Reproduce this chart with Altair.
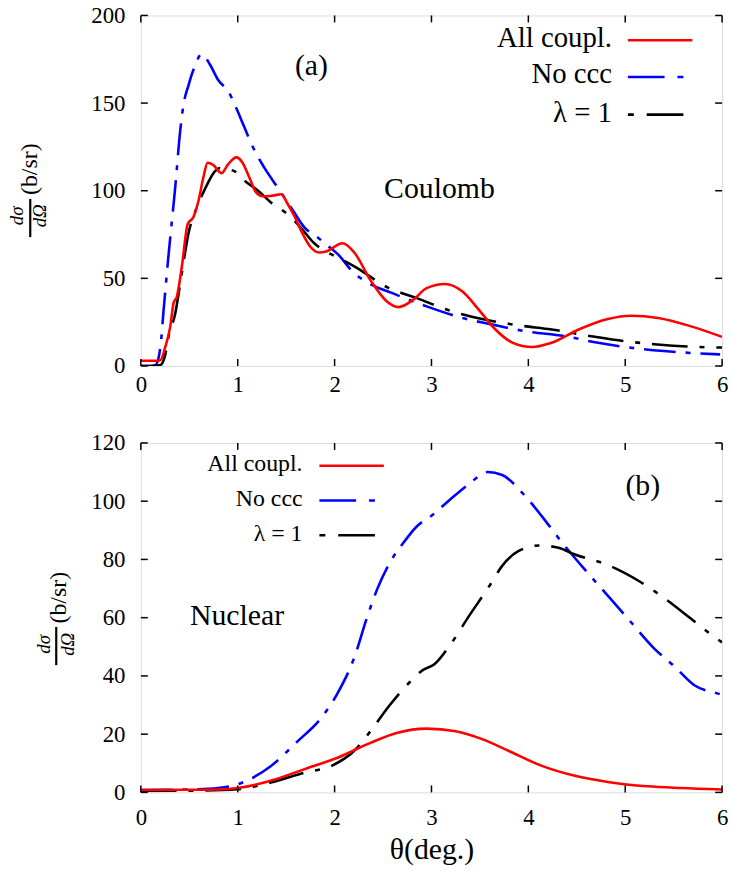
import altair as alt
import pandas as pd

# ---------------- data: Coulomb panel (a) ----------------
coul_all_theta = [0, 0.1, 0.17, 0.205, 0.253, 0.304, 0.338, 0.372, 0.423, 0.484, 0.543, 0.594,
                  0.645, 0.689, 0.747, 0.832, 0.90, 0.986, 1.05, 1.12, 1.19, 1.26, 1.34, 1.45,
                  1.51, 1.58, 1.67, 1.75, 1.84, 1.92, 2.08, 2.20, 2.37, 2.54, 2.66, 2.81, 2.95,
                  3.14, 3.32, 3.49, 3.66, 3.84, 4.04, 4.24, 4.52, 4.82, 5.06, 5.34, 5.68, 6.0]
coul_all = [3, 3, 3, 3.5, 11, 22.6, 36, 39.6, 56.6, 81, 85, 94,
            107.5, 116, 114.7, 110, 115, 119, 116, 107.5, 99, 96.8, 97, 98,
            93, 86, 75.5, 68, 64.7, 65.5, 70, 65, 49, 36.8, 33.6, 37.7, 44.4,
            46.8, 42.5, 32, 20.8, 13.2, 10.8, 13.2, 20.8, 26.8, 28.7, 27.4, 22.6, 16.6]

coul_noccc_theta = [0, 0.1, 0.15, 0.2, 0.235, 0.287, 0.355, 0.406, 0.44, 0.491, 0.55, 0.63,
                    0.713, 0.80, 0.90, 0.986, 1.07, 1.16, 1.276, 1.41, 1.55, 1.69, 1.82, 1.92,
                    2.03, 2.20, 2.33, 2.64, 2.95, 3.32, 3.63, 3.97, 4.38, 4.72, 5.06, 5.40, 5.98]
coul_noccc = [0, 0, 0.5, 10, 32, 64, 102, 134, 149, 160, 170, 178,
              172, 163, 157, 147, 136, 124.5, 113, 102, 90.5, 79, 73.6, 69,
              64, 53, 48, 40.6, 34, 27.4, 23.6, 19.8, 17, 13.2, 10.4, 8.5, 6.6]

coul_lam_theta = [0, 0.1, 0.2, 0.25, 0.287, 0.355, 0.423, 0.491, 0.577, 0.662, 0.764, 0.816,
                  0.969, 1.07, 1.21, 1.34, 1.51, 1.65, 1.79, 1.92, 2.03, 2.23, 2.54, 2.85,
                  3.22, 3.56, 3.90, 4.24, 4.65, 4.99, 5.33, 5.68, 6.0]
coul_lam = [0, 0, 0.5, 6, 17, 30, 53, 75.5, 90.5, 101, 111, 113,
            111, 105.7, 100, 93.4, 86.8, 79, 70, 65, 62, 56, 45, 38.7,
            31, 26.4, 23.2, 20.8, 17, 14.2, 12.3, 11, 10.5]

# ---------------- data: Nuclear panel (b) ----------------
nuc_all_theta = [0, 0.5, 0.8, 1.0, 1.34, 1.69, 2.03, 2.37, 2.64, 2.95, 3.25, 3.53, 3.80,
                 4.14, 4.48, 4.82, 5.23, 5.57, 6.0]
nuc_all = [0.8, 0.9, 1.0, 1.5, 4, 8, 11.9, 17, 20.4, 21.9, 21, 18.2, 14.2,
           9.1, 5.7, 3.6, 2.1, 1.5, 1.0]

nuc_noccc_theta = [0, 0.5, 0.8, 1.0, 1.34, 1.62, 1.86, 2.04, 2.20, 2.33, 2.44, 2.57, 2.71,
                   2.85, 3.0, 3.19, 3.39, 3.58, 3.73, 3.94, 4.14, 4.35, 4.55, 4.79, 5.03,
                   5.30, 5.51, 5.71, 5.95, 6.0]
nuc_noccc = [0.8, 1.0, 1.5, 2.8, 9, 17.6, 25.5, 34.6, 46, 59.6, 69.8, 78.9, 85.7,
             91.4, 95, 100.5, 106, 110, 109, 102.8, 94.8, 85.7, 77.8, 68.7, 59.6,
             49.4, 43.2, 36.9, 34, 33.5]

nuc_lam_theta = [0, 0.5, 1.0, 1.34, 1.69, 1.96, 2.20, 2.37, 2.57, 2.78, 2.91, 3.03, 3.19,
                 3.39, 3.60, 3.73, 3.90, 4.11, 4.31, 4.48, 4.82, 5.17, 5.44, 5.68, 5.92, 6.0]
nuc_lam = [0.5, 0.6, 1.1, 3.4, 6.8, 9, 14.2, 21, 30, 38, 42, 44, 50.5,
           60.7, 71, 77.8, 82.9, 84.8, 84, 81.7, 78.1, 72, 65.8, 59.6, 53.4, 51.5]

series_labels = ["All coupl.", "No ccc", "λ = 1"]
x_ticks = [0, 1, 2, 3, 4, 5, 6]
coul_y_ticks = [0, 50, 100, 150, 200]
nuc_y_ticks = [0, 20, 40, 60, 80, 100, 120]

# ---------------- styling ----------------
FONT = "Liberation Serif"
W = 586
RED, BLUE, BLACK = "#ff0000", "#0000ff", "#000000"
DASH_BLUE = [32, 10, 5, 10]
DASH_BLACK = [36, 12, 5, 12]
LW = 2.6
TICK = 7


def panel(curves, y_max, y_ticks, H, x_label_pad, x_title, ann, legend, ytitle):
    xscale = alt.Scale(domain=[0, 6], nice=False, zero=False)
    yscale = alt.Scale(domain=[0, y_max], nice=False, zero=False)
    xaxis = alt.Axis(values=x_ticks, ticks=False, domain=False, grid=False,
                     labelFont=FONT, labelFontSize=23, labelColor="black",
                     labelPadding=x_label_pad, labelFlush=False,
                     title=x_title if x_title else None,
                     titleFont=FONT, titleFontSize=30, titleFontWeight="normal",
                     titleColor="black", titlePadding=6)
    yaxis = alt.Axis(values=y_ticks, ticks=False, domain=False, grid=False,
                     labelFont=FONT, labelFontSize=23, labelColor="black",
                     labelPadding=16, labelFlush=False, title=None)

    def X(f):
        return alt.X(f, type="quantitative", scale=xscale, axis=xaxis)

    def Y(f):
        return alt.Y(f, type="quantitative", scale=yscale, axis=yaxis)

    layers = []
    for th, vals, color, dash in curves:
        df = pd.DataFrame({"theta": th, "value": vals})
        mk = dict(color=color, strokeWidth=LW, interpolate="monotone", clip=True,
                  strokeCap="butt")
        if dash:
            mk["strokeDash"] = dash
        layers.append(alt.Chart(df).mark_line(**mk).encode(x=X("theta"), y=Y("value")))

    # inward tick marks on all four sides
    xt = pd.DataFrame({"theta": x_ticks})
    yt = pd.DataFrame({"value": y_ticks})
    tk = dict(color="black", strokeWidth=1.5)
    layers.append(alt.Chart(xt).mark_rule(**tk).encode(
        x=X("theta"), y=alt.value(H), y2=alt.value(H - TICK)))
    layers.append(alt.Chart(xt).mark_rule(**tk).encode(
        x=X("theta"), y=alt.value(0), y2=alt.value(TICK)))
    layers.append(alt.Chart(yt).mark_rule(**tk).encode(
        y=Y("value"), x=alt.value(0), x2=alt.value(TICK)))
    layers.append(alt.Chart(yt).mark_rule(**tk).encode(
        y=Y("value"), x=alt.value(W - TICK), x2=alt.value(W)))

    one = pd.DataFrame({"k": [0]})

    # panel annotations
    for text, px, py, size in ann:
        layers.append(alt.Chart(one).mark_text(
            text=text, font=FONT, fontSize=size, color="black",
            align="center", baseline="alphabetic").encode(
            x=alt.value(px), y=alt.value(py)))

    # key: label on the left, line sample on the right
    tx, rows, fsize, sx0, sx1 = legend
    styles = [(RED, None, sx1), (BLUE, [37, 13, 7, 13], sx1 - 9), (BLACK, [6, 13, 38, 13], sx1 - 9)]
    for i, lab in enumerate(series_labels):
        ly, lb = rows[i]
        col, dsh, end = styles[i]
        layers.append(alt.Chart(one).mark_text(
            text=lab, font=FONT, fontSize=fsize, color="black",
            align="right", baseline="alphabetic").encode(
            x=alt.value(tx), y=alt.value(lb)))
        rk = dict(color=col, strokeWidth=LW, strokeCap="butt")
        if dsh:
            rk["strokeDash"] = dsh
        layers.append(alt.Chart(one).mark_rule(**rk).encode(
            x=alt.value(sx0), x2=alt.value(end), y=alt.value(ly)))

    # y-axis title: d(sigma)/d(Omega) as a stacked fraction, then (b/sr)
    bx, by, num_x, den_x, frac_y, bar_x, bar_y0, bar_y1 = ytitle
    layers.append(alt.Chart(one).mark_text(
        text="(b/sr)", font=FONT, fontSize=24, color="black", angle=270,
        align="center", baseline="middle").encode(x=alt.value(bx), y=alt.value(by)))
    layers.append(alt.Chart(one).mark_text(
        text="dσ", font=FONT, fontSize=19, fontStyle="italic", color="black", angle=270,
        align="center", baseline="middle").encode(x=alt.value(num_x), y=alt.value(frac_y)))
    layers.append(alt.Chart(one).mark_text(
        text="dΩ", font=FONT, fontSize=19, fontStyle="italic", color="black", angle=270,
        align="center", baseline="middle").encode(x=alt.value(den_x), y=alt.value(frac_y)))
    layers.append(alt.Chart(one).mark_rule(color="black", strokeWidth=2.2).encode(
        x=alt.value(bar_x), y=alt.value(bar_y0), y2=alt.value(bar_y1)))

    return alt.layer(*layers).properties(width=W, height=H)


top = panel(
    curves=[(coul_noccc_theta, coul_noccc, BLUE, DASH_BLUE),
            (coul_lam_theta, coul_lam, BLACK, DASH_BLACK),
            (coul_all_theta, coul_all, RED, None)],
    y_max=200, y_ticks=coul_y_ticks, H=353.4, x_label_pad=8, x_title=None,
    ann=[("(a)", 172, 60, 30), ("Coulomb", 301, 184, 30)],
    legend=(475, [(25, 32), (62, 68.5), (100, 107)], 29, 491, 556),
    ytitle=(-112, 155, -125, -102, 202, -111.5, 185, 223.5),
)

bottom = panel(
    curves=[(nuc_noccc_theta, nuc_noccc, BLUE, DASH_BLUE),
            (nuc_lam_theta, nuc_lam, BLACK, DASH_BLACK),
            (nuc_all_theta, nuc_all, RED, None)],
    y_max=120, y_ticks=nuc_y_ticks, H=352.3, x_label_pad=14, x_title="θ(deg.)",
    ann=[("(b)", 506, 52, 30), ("Nuclear", 97, 184, 30)],
    legend=(163, [(23, 28.5), (58, 63.5), (93, 98.5)], 24, 180, 245),
    ytitle=(-82, 156, -98, -73, 203, -85.3, 185.5, 224),
)

chart = (
    alt.vconcat(top, bottom, spacing=34)
    .properties(padding={"left": 7, "top": 0, "right": 5, "bottom": 5})
    .configure_view(stroke="black", strokeWidth=2)
    .configure_axis(labelFont=FONT, titleFont=FONT)
    .configure_text(font=FONT)
    .configure(background="white", font=FONT)
)

chart.save("out.html", embed_options={"renderer": "svg", "actions": False})
